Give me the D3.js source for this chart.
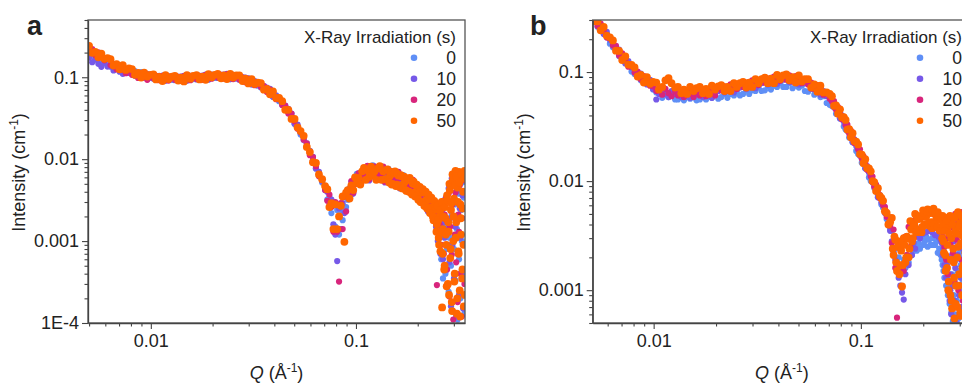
<!DOCTYPE html>
<html><head><meta charset="utf-8">
<script src="https://cdn.jsdelivr.net/npm/d3@7"></script>
<style>
body{margin:0;background:#fff}
svg{display:block}
text{font-family:"Liberation Sans",Arial,sans-serif;fill:#222}
</style>
</head><body>
<svg id="chart" width="962" height="383"></svg>
<script>
// ---------- DATA ----------
const Q = [
.00500,.00518,.00536,.00555,.00574,.00594,.00615,.00636,.00658,.00681,
.00705,.00730,.00755,.00782,.00809,.00837,.00867,.00897,.00928,.00961,
.00994,.0103,.0106,.0110,.0114,.0118,.0122,.0127,.0131,.0136,
.0140,.0145,.0150,.0156,.0161,.0167,.0173,.0179,.0185,.0191,
.0198,.0205,.0212,.0220,.0227,.0235,.0244,.0252,.0261,.0270,
.0280,.0289,.0299,.0310,.0321,.0332,.0344,.0356,.0368,.0381,
.0394,.0408,.0422,.0437,.0452,.0468,.0485,.0502,.0519,.0537,
.0556,.0576,.0596,.0617,.0638,.0660,.0684,.0707,
.0725,.0742,.0759,.0776,.0793,.0810,.0827,.0844,.0861,.0878,
.0895,.0912,.0930,.0950,.0970,.0990,.1010,.1030,.1050,.1072,
.1094,.1116,.1138,.1160,.1184,.1208,.1232,.1256,.1280,.1306,
.1332,.1358,.1384,.1410,.1438,.1466,.1494,.1522,.1550,.1580,
.1610,.1640,.1670,.1700,.1732,.1764,.1796,.1828,.1860,.1894,
.1928,.1962,.1996,.2030,.2065,.2100,.2135,.2170,.2206,.2242,
.2278,.2314,.2350,.2388,.2426,
.2455,.2480,.2505,.2530,.2555,.2580,.2605,.2630,.2655,.2680,
.2705,.2730,.2755,.2780,.2805,.2830,.2855,.2880,.2905,.2930,
.2955,.2980,.3005,.3030,.3055,.3080,.3105,.3130,.3155,.3180,
.3205,.3230,.3255,.3280,.3305,.3330,.3355,.3380];

// additional high-Q points recorded for the 50 s series
const Q_hi50 = [
.1425,.1452,.1480,.1508,.1536,.1565,.1595,.1625,.1655,.1685,
.1716,.1748,.1780,.1812,.1844,.1877,.1911,.1945,.1979,.2013,
.2048,.2083,.2118,.2153,.2188,.2224,.2260,.2296,.2332,.2369,
.2407,.2442,
.24675,.24925,.25175,.25425,.25675,.25925,.26175,.26425,.26675,.26925,
.27175,.27425,.27675,.27925,.28175,.28425,.28675,.28925,.29175,.29425,
.29675,.29925,.30175,.30425,.30675,.30925,.31175,.31425,.31675,.31925,
.32175,.32425,.32675,.32925,.33175,.33425,.33675,.33925];

const seriesNames = ["0","10","20","50"];

// ---- Panel a intensities (cm^-1) ----
const a_I0 = [
.182,.190,.171,.179,.149,.155,.142,.135,.143,.131,
.138,.117,.123,.115,.112,.119,.109,.116,.099,.105,
.098,.096,.104,.097,.105,.091,.098,.093,.092,.101,
.095,.104,.091,.099,.095,.094,.104,.098,.108,.094,
.103,.098,.098,.107,.101,.110,.095,.102,.096,.093,
.100,.092,.097,.082,.086,.079,.075,.078,.070,.072,
.058,.058,.051,.046,.045,.038,.036,.027,.025,.020,
.0171,.0156,.0118,.0107,.0077,.0067,.0052,.0042,
.0032,.0035,.0022,.0030,.0015,.0024,.0012,.0024,.0018,.0035,
.0026,.0032,.0044,.0037,.0050,.0050,.0066,.0050,.0061,.0069,
.0059,.0076,.0056,.0072,.0067,.0084,.0060,.0070,.0076,.0061,
.0076,.0055,.0068,.0061,.0076,.0053,.0061,.0066,.0053,.0066,
.0047,.0058,.0052,.0064,.0045,.0051,.0055,.0044,.0054,.0038,
.0046,.0040,.0048,.0033,.0037,.0039,.0030,.0036,.0025,.0030,
.0027,.0031,.0022,.0023,.0024,
.0019,.0021,.0013,.0024,.0009,.0017,.0006,.0021,.00035,.0012,
.0026,.0004,.0016,.0008,.0031,.00024,.0011,.0042,.0005,.0021,
.00014,.0055,.0008,.0028,.00033,.0061,.0014,.00011,.0038,.0006,
.006,.0002,.0024,.001,.0052,.00037,.0034,.00013];

const a_I10 = [
.174,.153,.164,.146,.134,.149,.135,.136,.121,.131,
.117,.110,.123,.113,.114,.104,.113,.103,.099,.110,
.102,.104,.095,.104,.095,.091,.103,.097,.100,.092,
.102,.094,.091,.104,.099,.102,.095,.105,.098,.094,
.108,.102,.106,.098,.108,.100,.095,.107,.100,.101,
.091,.099,.088,.082,.090,.082,.081,.071,.075,.065,
.058,.060,.053,.049,.041,.041,.033,.027,.0265,.021,
.0185,.0143,.0126,.0097,.0077,.0070,.0054,.0045,
.0040,.0027,.0032,.0016,.0012,.00057,.0025,.0014,.0029,.0022,
.0037,.0039,.0034,.0053,.0038,.0055,.0051,.0067,.0052,.0063,
.0072,.0058,.0082,.0055,.0074,.0065,.0081,.0060,.0069,.0075,
.0058,.0079,.0052,.0067,.0059,.0071,.0052,.0060,.0065,.0050,
.0068,.0044,.0057,.0049,.0060,.0043,.0050,.0054,.0041,.0055,
.0035,.0044,.0037,.0044,.0031,.0035,.0036,.0028,.0036,.0023,
.0029,.0024,.0029,.0020,.0022,
.0015,.0026,.0010,.0018,.0027,.0007,.0015,.0023,.0006,.0017,
.0011,.0033,.00028,.0014,.0009,.0044,.00055,.0019,.00016,.0058,
.0009,.003,.00035,.0066,.0015,.00012,.0041,.0007,.0063,.00022,
.0025,.0011,.0054,.0004,.0036,.00015,.0065,.0009];

const a_I20 = [
.216,.220,.186,.201,.178,.161,.168,.141,.146,.125,
.136,.123,.112,.120,.107,.113,.098,.108,.100,.093,
.100,.097,.104,.092,.104,.097,.091,.100,.093,.101,
.090,.103,.097,.092,.102,.095,.104,.093,.107,.100,
.096,.105,.099,.107,.096,.109,.101,.095,.103,.094,
.100,.087,.096,.087,.080,.084,.076,.078,.066,.071,
.061,.054,.055,.046,.045,.036,.036,.029,.0235,.0216,
.0173,.0156,.0112,.0106,.0082,.0062,.0056,.0042,
.0031,.0037,.0026,.0013,.0030,.0013,.00032,.0029,.0014,.0035,
.0023,.0041,.0037,.0054,.0039,.0057,.0050,.0067,.0060,.0054,
.0077,.0064,.0083,.0057,.0077,.0063,.0081,.0069,.0059,.0080,
.0064,.0081,.0053,.0070,.0057,.0072,.0060,.0051,.0070,.0055,
.0070,.0045,.0059,.0048,.0060,.0050,.0043,.0058,.0045,.0056,
.0036,.0046,.0036,.0044,.0036,.0030,.0039,.0030,.0037,.0024,
.0031,.0023,.0029,.0023,.0019,
.0029,.00029,.0022,.0013,.0016,.0023,.0009,.0019,.0027,.0007,
.0021,.0012,.0034,.00045,.0017,.0038,.00021,.0015,.0046,.00068,
.0028,.00011,.0059,.0012,.0039,.00055,.0068,.00018,.0021,.0013,
.0048,.0004,.0065,.00012,.0019,.0009,.0055,.0003];

const a_I50 = [
.241,.199,.204,.175,.194,.168,.171,.166,.139,.145,
.125,.141,.123,.128,.126,.107,.113,.099,.114,.102,
.107,.108,.094,.101,.090,.106,.095,.102,.104,.091,
.099,.089,.106,.096,.104,.106,.094,.102,.093,.109,
.100,.107,.110,.097,.105,.095,.110,.099,.105,.105,
.090,.096,.084,.095,.083,.086,.085,.0705,.072,.062,
.067,.056,.056,.051,.040,.040,.031,.031,.0245,.022,
.0193,.0141,.0122,.0092,.0090,.0065,.0057,.0047,
.0043,.0026,.0029,.0014,.0028,.0014,.0020,.0027,.0035,.00098,
.0039,.0042,.0033,.0048,.0042,.0060,.0051,.0059,.0049,.0071,
.0078,.0056,.0073,.0061,.0081,.0064,.0071,.0056,.0077,.0082,
.0056,.0071,.0057,.0074,.0058,.0063,.0049,.0067,.0071,.0049,
.0063,.0048,.0062,.0049,.0053,.0041,.0056,.0059,.0039,.0050,
.0039,.0048,.0037,.0039,.0030,.0039,.0040,.0027,.0032,.0026,
.0032,.0024,.0026,.0018,.0025,
.0024,.0016,.0028,.0011,.0020,.00075,.0025,.000155,.0014,.0030,
.00050,.0019,.0009,.0036,.00030,.0013,.0050,.00062,.0024,.00018,
.0065,.0010,.0033,.00040,.0072,.0017,.00013,.0045,.00075,.0070,
.00025,.0028,.0012,.0060,.00045,.0040,.00016,.0072];

const a_I50_hi = [
.0075,.0052,.0070,.0050,.0068,.0047,.0066,.0046,.0064,.0044,
.0061,.0042,.0058,.0040,.0056,.0037,.0053,.0035,.0049,.0032,
.0046,.0030,.0043,.0027,.0040,.0025,.0037,.0022,.0034,.0020,
.0031,.0018,
.0013,.0027,.0018,.0009,.0024,.0013,.0030,.0007,.0020,.00045,
.0026,.0012,.00028,.0031,.0017,.00022,.0042,.0008,.0029,.00014,
.0055,.0020,.00032,.0048,.0011,.0062,.00020,.0030,.0007,.0052,
.00012,.0019,.0066,.00035,.0025,.0009,.0058,.00022];

// ---- Panel b intensities (cm^-1) ----
const b_I0 = [
.317,.311,.260,.257,.228,.222,.182,.169,.167,.140,
.137,.123,.120,.101,.096,.097,.084,.085,.079,.081,
.069,.065,.067,.058,.062,.059,.062,.056,.056,.060,
.055,.059,.057,.061,.055,.056,.060,.056,.060,.058,
.062,.057,.059,.063,.058,.063,.061,.066,.061,.063,
.068,.063,.068,.067,.072,.067,.068,.074,.069,.075,
.073,.079,.073,.073,.079,.071,.075,.072,.075,.067,
.066,.070,.062,.064,.059,.060,.052,.050,
.0489,.0487,.0414,.0414,.0375,.0371,.0317,.0297,.0296,.0251,
.0252,.0227,.0225,.0189,.0177,.0176,.0147,.0146,.0131,.0128,
.0108,.0100,.0099,.0087,.0085,.0075,.0074,.0061,.0057,.0055,
.0045,.0043,.0037,.0035,.0024,.0024,.0018,.0020,.0016,.0017,
.0019,.0016,.0020,.0018,.0024,.0021,.0023,.0026,.0023,.0027,
.0024,.0030,.0026,.0028,.0031,.0025,.0029,.0026,.0030,.0026,
.0026,.0028,.0022,.0024,.0021,
.0019,.0017,.0015,.0013,.0016,.0011,.0013,.0009,.0011,.00075,
.0010,.00062,.0014,.00052,.0009,.0012,.0006,.0019,.0008,.0015,
.00055,.0022,.0010,.0017,.0007,.0026,.0012,.0020,.0009,.0028,
.0014,.0022,.0006,.0031,.0011,.0019,.0008,.0025];

const b_I10 = [
.350,.296,.299,.254,.223,.233,.198,.187,.159,.161,
.136,.120,.126,.110,.106,.092,.097,.084,.077,.085,
.070,.056,.063,.069,.063,.059,.067,.063,.064,.059,
.065,.060,.058,.066,.062,.064,.059,.066,.061,.058,
.068,.067,.070,.065,.073,.068,.065,.075,.072,.075,
.070,.079,.074,.071,.082,.079,.082,.077,.086,.080,
.078,.090,.085,.088,.081,.089,.081,.077,.085,.079,
.079,.070,.076,.067,.062,.067,.060,.058,
.0554,.0474,.0488,.0420,.0376,.0400,.0352,.0336,.0288,.0296,
.0255,.0228,.0242,.0210,.0201,.0171,.0173,.0148,.0131,.0137,
.0120,.0114,.0097,.0097,.0082,.0071,.0075,.0064,.0061,.0051,
.0050,.0041,.0035,.0028,.0022,.0019,.0015,.0013,.0011,.00095,
.00082,.0014,.0021,.0017,.0024,.0021,.0027,.0024,.0031,.0036,
.0030,.0038,.0033,.0040,.0034,.0041,.0035,.0040,.0034,.0039,
.0032,.0037,.0031,.0035,.0029,
.0027,.0021,.0024,.0017,.0020,.0013,.0017,.0010,.0019,.0008,
.0014,.0006,.0021,.0011,.0028,.0008,.0016,.0033,.0005,.0021,
.0038,.0009,.0026,.0013,.0042,.0007,.0024,.0035,.0011,.0019,
.0044,.0009,.0029,.0016,.0039,.0006,.0022,.0047];

const b_I20 = [
.326,.324,.265,.278,.238,.207,.204,.175,.174,.142,
.148,.128,.112,.113,.099,.101,.086,.092,.082,.075,
.074,.067,.071,.062,.070,.064,.060,.066,.061,.066,
.059,.067,.063,.059,.065,.061,.066,.060,.068,.064,
.061,.072,.068,.074,.067,.077,.072,.070,.077,.073,
.080,.073,.084,.079,.076,.084,.080,.087,.079,.091,
.086,.083,.092,.085,.093,.082,.092,.085,.079,.084,
.077,.080,.070,.076,.068,.062,.064,.057,
.0538,.0541,.0450,.0478,.0417,.0369,.0378,.0326,.0329,.0273,
.0290,.0252,.0224,.0226,.0195,.0196,.0160,.0169,.0146,.0127,
.0129,.0110,.0110,.0089,.0093,.0079,.0070,.0069,.0060,.0058,
.0047,.0047,.0039,.0027,.0036,.0016,.00056,.0025,.0015,.0028,
.0015,.0031,.0021,.0038,.0025,.0043,.0030,.0044,.0047,.0035,
.0047,.0036,.0047,.0040,.0053,.0054,.0040,.0053,.0039,.0050,
.0041,.0052,.0052,.0037,.0046,
.0046,.0031,.0040,.0025,.0036,.0019,.0030,.0014,.0033,.0010,
.0026,.0043,.0008,.0022,.0037,.0012,.0050,.0007,.0029,.0041,
.0010,.0033,.0006,.0046,.0019,.0052,.0008,.0030,.0042,.0013,
.0026,.0006,.0048,.0020,.0034,.0011,.0043,.0016];

const b_I50 = [
.364,.293,.291,.241,.259,.216,.208,.195,.157,.156,
.129,.139,.117,.116,.110,.091,.094,.080,.090,.078,
.081,.080,.069,.073,.084,.088,.079,.072,.073,.064,
.069,.063,.073,.067,.071,.073,.064,.070,.063,.075,
.069,.074,.076,.067,.073,.067,.079,.073,.079,.081,
.072,.080,.073,.086,.079,.086,.089,.079,.087,.079,
.094,.086,.093,.095,.084,.090,.080,.093,.082,.086,
.086,.072,.077,.066,.075,.065,.065,.063,
.060,.049,.0494,.0415,.0455,.0385,.0385,.0364,.0297,.0300,
.0252,.0275,.0233,.0230,.0217,.0177,.0175,.0146,.0159,.0132,
.0131,.0123,.0100,.0098,.0081,.0086,.0073,.0070,.0066,.0053,
.0051,.0040,.0042,.0046,.0021,.0029,.0015,.0028,.0017,.00108,
.0030,.0018,.0031,.0020,.0043,.0028,.0039,.0050,.0048,.0034,
.0045,.0034,.0054,.0040,.0047,.0055,.0039,.0051,.0037,.0056,
.0041,.0046,.0052,.0036,.0044,
.0036,.0048,.0028,.0042,.0021,.0046,.0016,.0038,.0012,.0044,
.0009,.0030,.00068,.0047,.0018,.00055,.0035,.0011,.0049,.0007,
.0025,.0014,.0041,.00058,.0032,.0009,.0045,.0017,.0006,.0038,
.0012,.0050,.0008,.0028,.0015,.0044,.0007,.0036];

const b_I50_hi = [
.0024,.0031,.0018,.0025,.0014,.0023,.0017,.0026,.0020,.0030,
.0024,.0036,.0030,.0040,.0034,.0045,.0036,.0048,.0038,.0051,
.0040,.0052,.0041,.0053,.0042,.0052,.0040,.0050,.0038,.0049,
.0035,.0046,
.0030,.0040,.0022,.0035,.0015,.0043,.0026,.0010,.0033,.0048,
.0019,.0008,.0040,.0024,.0013,.0046,.00075,.0033,.0020,.0052,
.0011,.0038,.00062,.0027,.0048,.0016,.0035,.0009,.0043,.0022,
.0013,.0050,.0030,.0007,.0040,.0018,.0046,.0011];

// Tick values and labels
const xTickValues = [0.01, 0.1];
const xTickLabels = ["0.01", "0.1"];
const yTickValuesA = [0.1, 0.01, 0.001, 0.0001];
const yTickLabelsA = ["0.1", "0.01", "0.001", "1E-4"];
const yTickValuesB = [0.1, 0.01, 0.001];
const yTickLabelsB = ["0.1", "0.01", "0.001"];
const legendTitle = "X-Ray Irradiation (s)";

// ---------- STYLE / LAYOUT ----------
const colors = ["#5f8ff6", "#7659e8", "#d8257c", "#ff6600"];
const radii = [3.1, 3.1, 3.1, 3.9];
const legendR = 3.3;
const panels = [
  {key:"a", series:[[Q,a_I0],[Q,a_I10],[Q,a_I20],[Q,a_I50,Q_hi50,a_I50_hi]],
   left:88, right:465, top:20, bottom:323,
   xDom:[0.00494,0.34], yDom:[1e-4,0.5], yT:yTickValuesA, yL:yTickLabelsA, letterX:27},
  {key:"b", series:[[Q,b_I0],[Q,b_I10],[Q,b_I20],[Q,b_I50,Q_hi50,b_I50_hi]],
   left:592.7, right:971, top:20, bottom:323,
   xDom:[0.00508,0.34], yDom:[5e-4,0.3], yT:yTickValuesB, yL:yTickLabelsB, letterX:530}
];

const svg = d3.select("#chart");
svg.append("rect").attr("width",962).attr("height",383).attr("fill","#fff");

function minorTicks(dom, majors){
  const out=[];
  const e0=Math.floor(Math.log10(dom[0]))-1, e1=Math.ceil(Math.log10(dom[1]))+1;
  for(let e=e0;e<=e1;e++){
    for(let k=1;k<=9;k++){
      const v=k*Math.pow(10,e);
      if(v>=dom[0]*0.9999 && v<=dom[1]*1.0001 && !majors.some(m=>Math.abs(m-v)/m<1e-6)) out.push(v);
    }
  }
  return out;
}
function pairs(qs, is){
  const out=[]; const n=Math.min(qs.length, is.length);
  for(let i=0;i<n;i++) if(is[i]>0) out.push([qs[i],is[i]]);
  return out;
}

panels.forEach(p=>{
  const x = d3.scaleLog().domain(p.xDom).range([p.left,p.right]);
  const y = d3.scaleLog().domain(p.yDom).range([p.bottom,p.top]);
  const g = svg.append("g");

  const clipId = "clip"+p.key;
  svg.append("clipPath").attr("id",clipId).append("rect")
    .attr("x",p.left).attr("y",p.top).attr("width",p.right-p.left).attr("height",p.bottom-p.top);

  const pts = g.append("g").attr("clip-path",`url(#${clipId})`);
  p.series.forEach((s,si)=>{
    let data = pairs(s[0], s[1]);
    if(s.length>2) data = data.concat(pairs(s[2], s[3]));
    pts.append("g").selectAll("circle").data(data).join("circle")
      .attr("cx",d=>x(d[0])).attr("cy",d=>y(d[1])).attr("r",radii[si])
      .attr("fill",colors[si]);
  });

  g.append("rect").attr("x",p.left).attr("y",p.top)
    .attr("width",p.right-p.left).attr("height",p.bottom-p.top)
    .attr("fill","none").attr("stroke","#555").attr("stroke-width",1.3);

  const styleAxis = sel=>{
    sel.selectAll("path.domain").attr("stroke","#444").attr("stroke-width",1.3);
    sel.selectAll(".tick line").attr("stroke","#444").attr("stroke-width",1.1);
    sel.selectAll(".tick text").attr("font-size",18).attr("fill","#222")
      .attr("font-family","'Liberation Sans',Arial,sans-serif");
  };
  const xa = g.append("g").attr("transform",`translate(0,${p.bottom})`)
    .call(d3.axisBottom(x).tickValues(xTickValues).tickFormat((d,i)=>xTickLabels[i])
      .tickSize(6).tickSizeOuter(0).tickPadding(5));
  styleAxis(xa);
  const xm = g.append("g").attr("transform",`translate(0,${p.bottom})`)
    .call(d3.axisBottom(x).tickValues(minorTicks(p.xDom,xTickValues)).tickFormat("")
      .tickSize(3.5).tickSizeOuter(0));
  xm.select("path.domain").remove(); styleAxis(xm);

  const ya = g.append("g").attr("transform",`translate(${p.left},0)`)
    .call(d3.axisLeft(y).tickValues(p.yT).tickFormat((d,i)=>p.yL[i])
      .tickSize(6).tickSizeOuter(0).tickPadding(3));
  styleAxis(ya);
  const ym = g.append("g").attr("transform",`translate(${p.left},0)`)
    .call(d3.axisLeft(y).tickValues(minorTicks(p.yDom,p.yT)).tickFormat("")
      .tickSize(3.5).tickSizeOuter(0));
  ym.select("path.domain").remove(); styleAxis(ym);

  const yt = g.append("text")
    .attr("transform",`translate(${p.left-63},${(p.top+p.bottom)/2+1}) rotate(-90)`)
    .attr("text-anchor","middle").attr("font-size",18).attr("fill","#222");
  yt.append("tspan").text("Intensity (cm");
  yt.append("tspan").attr("dy",-7).attr("font-size",12).text("-1");
  yt.append("tspan").attr("dy",7).text(")");

  const xt = g.append("text")
    .attr("x",(p.left+p.right)/2).attr("y",379)
    .attr("text-anchor","middle").attr("font-size",18).attr("fill","#222");
  xt.append("tspan").attr("font-style","italic").text("Q");
  xt.append("tspan").text(" (Å");
  xt.append("tspan").attr("dy",-7).attr("font-size",12).text("-1");
  xt.append("tspan").attr("dy",7).text(")");

  g.append("text").attr("x",p.letterX).attr("y",35)
    .attr("font-size",27).attr("font-weight","bold").attr("fill","#111").text(p.key);

  const lg = g.append("g");
  lg.append("text").attr("x",p.right-9).attr("y",43).attr("text-anchor","end")
    .attr("font-size",17).text(legendTitle);
  seriesNames.forEach((n,i)=>{
    lg.append("circle").attr("cx",p.right-51).attr("cy",57.7+i*21).attr("r",legendR).attr("fill",colors[i]);
    lg.append("text").attr("x",p.right-9).attr("y",64+i*21).attr("text-anchor","end")
      .attr("font-size",17.5).text(n);
  });
});
</script>
</body></html>
